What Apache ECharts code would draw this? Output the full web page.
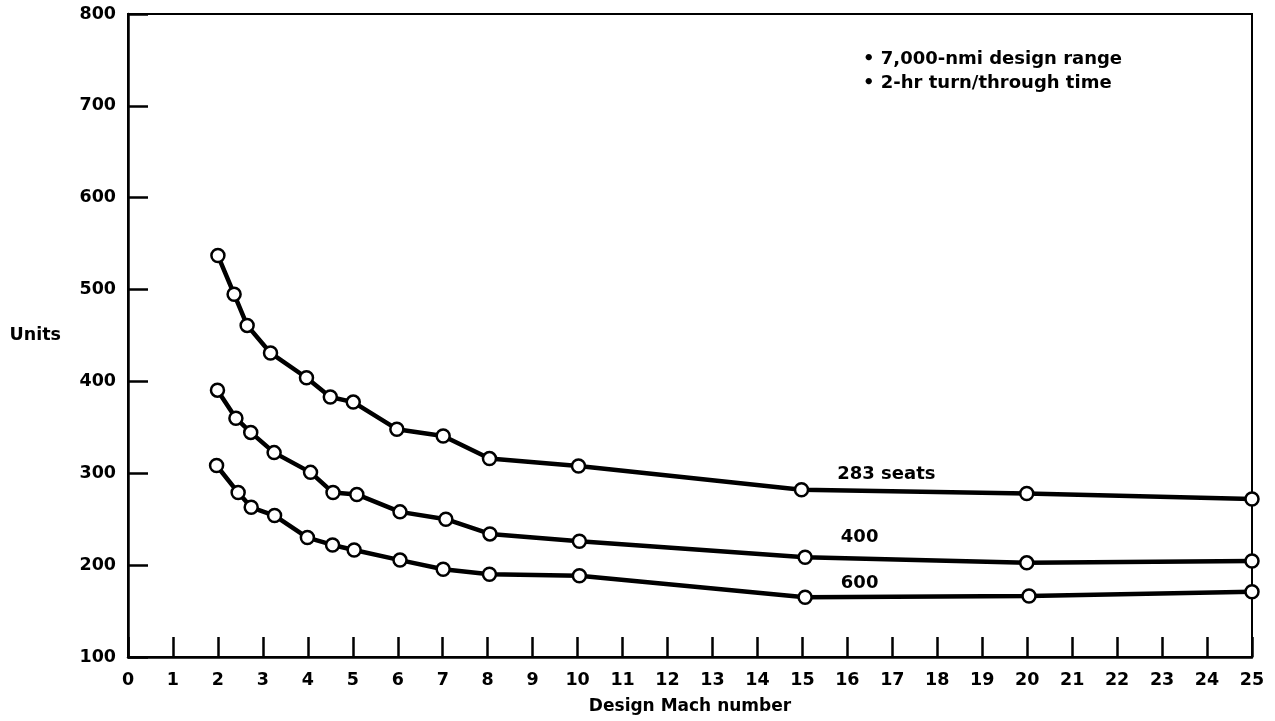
<!DOCTYPE html>
<html>
<head>
<meta charset="utf-8">
<script src="https://cdn.jsdelivr.net/npm/echarts@6/dist/echarts.min.js"></script>
<style>
  html, body { margin: 0; padding: 0; background: #fff; }
  #chart { width: 1275px; height: 721px; }
</style>
</head>
<body>
<div id="chart"></div>
<script>
// Units versus design Mach number for three seating capacities
const seats283X = [2, 2.36, 2.65, 3.17, 3.97, 4.5, 5.01, 5.98, 7.01, 8.04, 10.02, 14.98, 19.99, 25];
const seats283Y = [537, 495, 461, 431, 404, 383, 377.5, 348, 340.5, 316, 308, 282, 278, 272];

const seats400X = [1.99, 2.4, 2.73, 3.25, 4.06, 4.56, 5.09, 6.05, 7.07, 8.05, 10.04, 15.06, 19.99, 25];
const seats400Y = [390.5, 360, 344.5, 322.5, 301, 279, 277, 258, 250, 234, 226, 208.5, 202.5, 204.5];

const seats600X = [1.97, 2.45, 2.74, 3.26, 3.99, 4.55, 5.03, 6.05, 7.01, 8.04, 10.04, 15.06, 20.04, 25];
const seats600Y = [308.5, 279, 263, 254, 230, 222, 216.5, 205.5, 195.5, 190, 188.5, 165, 166.5, 171];

const seriesNames = ['283 seats', '400', '600'];
const labelIndex = 11;               // the curve names sit just past Mach 15
const labelOffsets = [[0, -15], [0, -20], [0, -14]];

const notes = ['\u2022 7,000-nmi design range', '\u2022 2-hr turn/through time'];

const FONT = '"DejaVu Sans", sans-serif';

function pairs(xs, ys) { return xs.map((x, i) => [x, ys[i]]); }

function makeSeries(name, xs, ys, offset) {
  const data = pairs(xs, ys).map((p, i) => {
    if (i !== labelIndex) return p;
    return {
      value: p,
      label: {
        show: true,
        formatter: name,
        position: 'right',
        distance: 28,
        offset: offset,
        color: '#000',
        fontFamily: FONT,
        fontWeight: 'bold',
        fontSize: 18
      }
    };
  });
  return {
    name: name,
    type: 'line',
    data: data,
    symbol: 'circle',
    symbolSize: 13,
    lineStyle: { color: '#000', width: 4.5 },
    itemStyle: { color: '#fff', borderColor: '#000', borderWidth: 2.5 },
    emphasis: { disabled: true },
    z: 3
  };
}

const chart = echarts.init(document.getElementById('chart'), null, { renderer: 'canvas' });

chart.setOption({
  animation: false,
  backgroundColor: '#fff',
  title: {
    text: notes.join('\n'),
    left: 858,
    top: 42,
    textStyle: { fontFamily: FONT, fontWeight: 'bold', fontSize: 18, color: '#000', lineHeight: 24 }
  },
  grid: {
    left: 128, right: 23, top: 14, bottom: 64,
    outerBoundsMode: 'none',
    show: true, borderColor: '#000', borderWidth: 2
  },
  xAxis: {
    type: 'value',
    min: 0, max: 25, interval: 1,
    name: 'Design Mach number',
    nameLocation: 'middle',
    nameGap: 41,
    nameTextStyle: { fontFamily: FONT, fontWeight: 'bold', fontSize: 17, color: '#000' },
    axisLine: { show: true, lineStyle: { color: '#000', width: 2.5 } },
    axisTick: { show: true, inside: true, length: 20, lineStyle: { color: '#000', width: 2.5 } },
    axisLabel: { margin: 14, fontFamily: FONT, fontWeight: 'bold', fontSize: 17.5, color: '#000' },
    splitLine: { show: false }
  },
  yAxis: {
    type: 'value',
    min: 100, max: 800, interval: 100,
    name: 'Units',
    nameLocation: 'middle',
    nameRotate: 0,
    nameGap: 67,
    nameTextStyle: { fontFamily: FONT, fontWeight: 'bold', fontSize: 17.5, color: '#000', padding: [0, 0, 26, 0] },
    axisLine: { show: true, lineStyle: { color: '#000', width: 2.5 } },
    axisTick: { show: true, inside: true, length: 20, lineStyle: { color: '#000', width: 2.5 } },
    axisLabel: { margin: 12, fontFamily: FONT, fontWeight: 'bold', fontSize: 17.5, color: '#000' },
    splitLine: { show: false }
  },
  series: [
    makeSeries(seriesNames[0], seats283X, seats283Y, labelOffsets[0]),
    makeSeries(seriesNames[1], seats400X, seats400Y, labelOffsets[1]),
    makeSeries(seriesNames[2], seats600X, seats600Y, labelOffsets[2])
  ]
});
</script>
</body>
</html>
